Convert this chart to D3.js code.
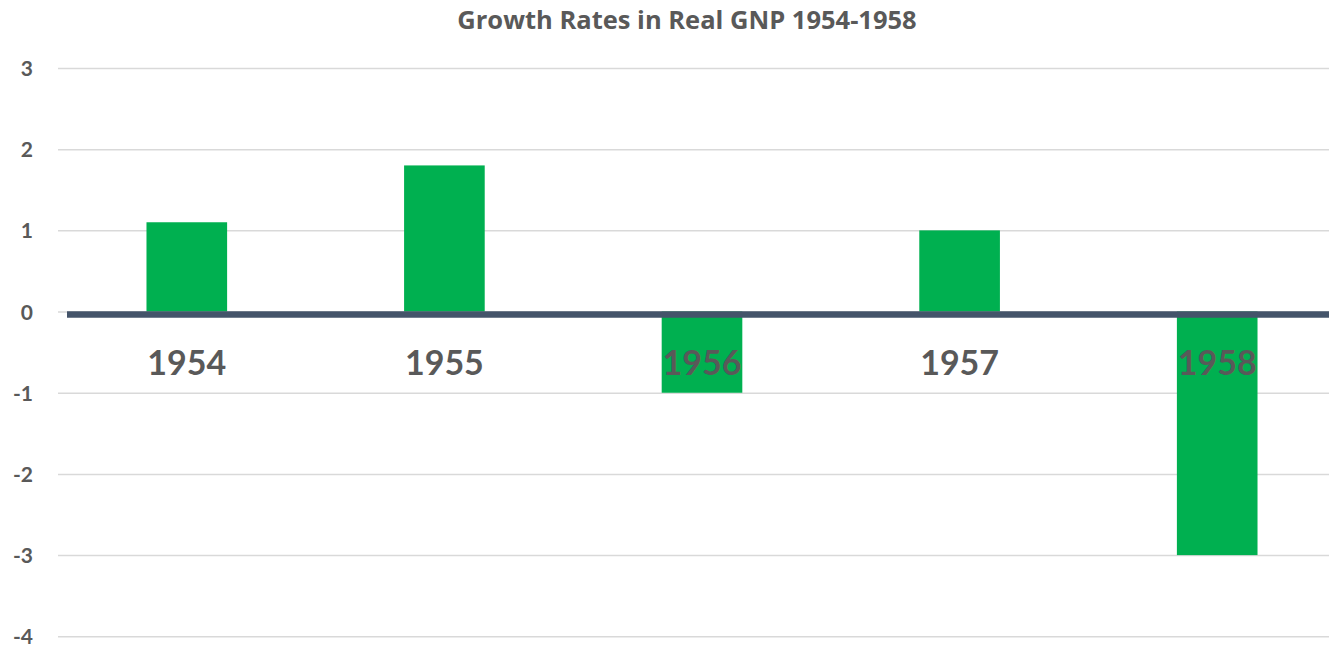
<!DOCTYPE html>
<html>
<head>
<meta charset="utf-8">
<script src="https://cdn.jsdelivr.net/npm/d3@7"></script>
<style>
  html, body { margin: 0; padding: 0; background: #ffffff; }
  svg { display: block; }
  text { font-family: Lato, "Open Sans", sans-serif; font-weight: bold; fill: #595959; }
</style>
</head>
<body>
<svg id="chart" width="1329" height="647"></svg>
<script>
const title = "Growth Rates in Real GNP 1954-1958";
const years = ["1954", "1955", "1956", "1957", "1958"];
const growth = [1.1, 1.8, -1.0, 1.0, -3.0];
const yTicks = [3, 2, 1, 0, -1, -2, -3, -4];

const svg = d3.select("#chart");

const x = d3.scaleBand()
  .domain(years)
  .range([58, 1346])
  .paddingInner(0.687)
  .paddingOuter(0.3435);

const y = d3.scaleLinear().domain([-4, 3]).range([636.3, 68]);

// gridlines
const yAxis = d3.axisLeft(y).tickValues(yTicks).tickSize(-(1346 - 58)).tickFormat(d => String(d));
const gAxis = svg.append("g").attr("transform", "translate(58,0)").call(yAxis);
gAxis.select(".domain").remove();
gAxis.selectAll(".tick line").attr("stroke", "#d9d9d9").attr("stroke-width", 1.5);
gAxis.selectAll(".tick text")
  .attr("x", -25)
  .attr("dy", "0.36em")
  .style("font-size", "21px")
  .style("font-family", "Lato, sans-serif")
  .style("font-weight", "bold")
  .attr("fill", "#595959");

// bars
svg.append("g").selectAll("rect")
  .data(years.map((yr, i) => ({ yr, v: growth[i] })))
  .join("rect")
  .attr("x", d => x(d.yr))
  .attr("width", x.bandwidth())
  .attr("y", d => d.v >= 0 ? y(d.v) : y(0))
  .attr("height", d => Math.abs(y(d.v) - y(0)))
  .attr("fill", "#00b050");

// zero axis line
svg.append("line")
  .attr("x1", 67).attr("x2", 1346)
  .attr("y1", y(0) + 3).attr("y2", y(0) + 3)
  .attr("stroke", "#44546a")
  .attr("stroke-width", 6.5);

// category labels
const xAxis = d3.axisBottom(x).tickSize(0);
const gX = svg.append("g").attr("transform", `translate(0,${y(0)})`).call(xAxis);
gX.select(".domain").remove();
gX.selectAll(".tick text")
  .attr("y", 63)
  .attr("dy", 0)
  .style("font-size", "34px")
  .style("font-family", "Lato, sans-serif")
  .style("font-weight", "bold")
  .attr("fill", "#595959");

// title
svg.append("text")
  .attr("x", 687)
  .attr("y", 29)
  .attr("text-anchor", "middle")
  .style("font-family", "'Open Sans', sans-serif")
  .style("font-size", "25.5px")
  .text(title);
</script>
</body>
</html>
